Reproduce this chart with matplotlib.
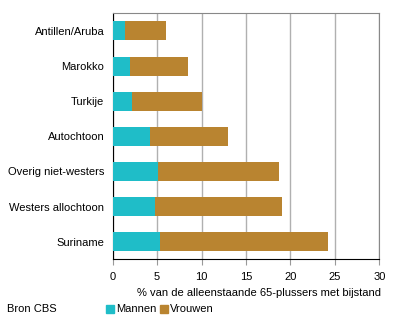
import matplotlib
matplotlib.use('Agg')
import matplotlib.pyplot as plt
from matplotlib.patches import Rectangle

plt.rcParams['font.family'] = ['Liberation Sans', 'DejaVu Sans']
plt.rcParams['font.size'] = 8

categories = ['Antillen/Aruba', 'Marokko', 'Turkije', 'Autochtoon',
              'Overig niet-westers', 'Westers allochtoon', 'Suriname']
mannen = [1.4, 1.9, 2.2, 4.2, 5.1, 4.8, 5.3]
vrouwen = [4.6, 6.6, 7.8, 8.8, 13.6, 14.2, 18.9]
xticks = [0, 5, 10, 15, 20, 25, 30]

MANNEN_COLOR = '#1fbdc8'
VROUWEN_COLOR = '#b98430'

fig = plt.figure(figsize=(3.96, 3.24), dpi=100)
ax = fig.add_axes([112.7 / 396, 1 - 259.3 / 324, 266.6 / 396, 246 / 324])

y = list(range(len(categories)))
ax.barh(y, mannen, height=0.54, color=MANNEN_COLOR, zorder=3)
ax.barh(y, vrouwen, left=mannen, height=0.54, color=VROUWEN_COLOR, zorder=3)

ax.set_ylim(len(categories) - 0.5, -0.5)
ax.set_xlim(0, 30)
ax.set_yticks(y)
ax.set_yticklabels(categories)
ax.set_xticks(xticks)
ax.tick_params(axis='y', length=0, pad=6)
ax.tick_params(axis='x', length=4, color='#999999', pad=5)
ax.grid(axis='x', color='#b0b0b0', linewidth=1, zorder=0)

for side in ('top', 'right'):
    ax.spines[side].set_color('#888888')
for side in ('left', 'bottom'):
    ax.spines[side].set_color('black')

ax.set_xlabel('% van de alleenstaande 65-plussers met bijstand', ha='right')
ax.xaxis.set_label_coords(1.005, -0.115)

fig.text(7 / 396, 1 - 309 / 324, 'Bron CBS', va='center')
fig.patches.append(Rectangle((106 / 396, 1 - 313 / 324), 8 / 396, 8 / 324,
                             transform=fig.transFigure, color=MANNEN_COLOR))
fig.text(116 / 396, 1 - 308.5 / 324, 'Mannen', va='center')
fig.patches.append(Rectangle((160 / 396, 1 - 313 / 324), 8 / 396, 8 / 324,
                             transform=fig.transFigure, color=VROUWEN_COLOR))
fig.text(170 / 396, 1 - 308.5 / 324, 'Vrouwen', va='center')

fig.savefig('out.png', dpi=100)
